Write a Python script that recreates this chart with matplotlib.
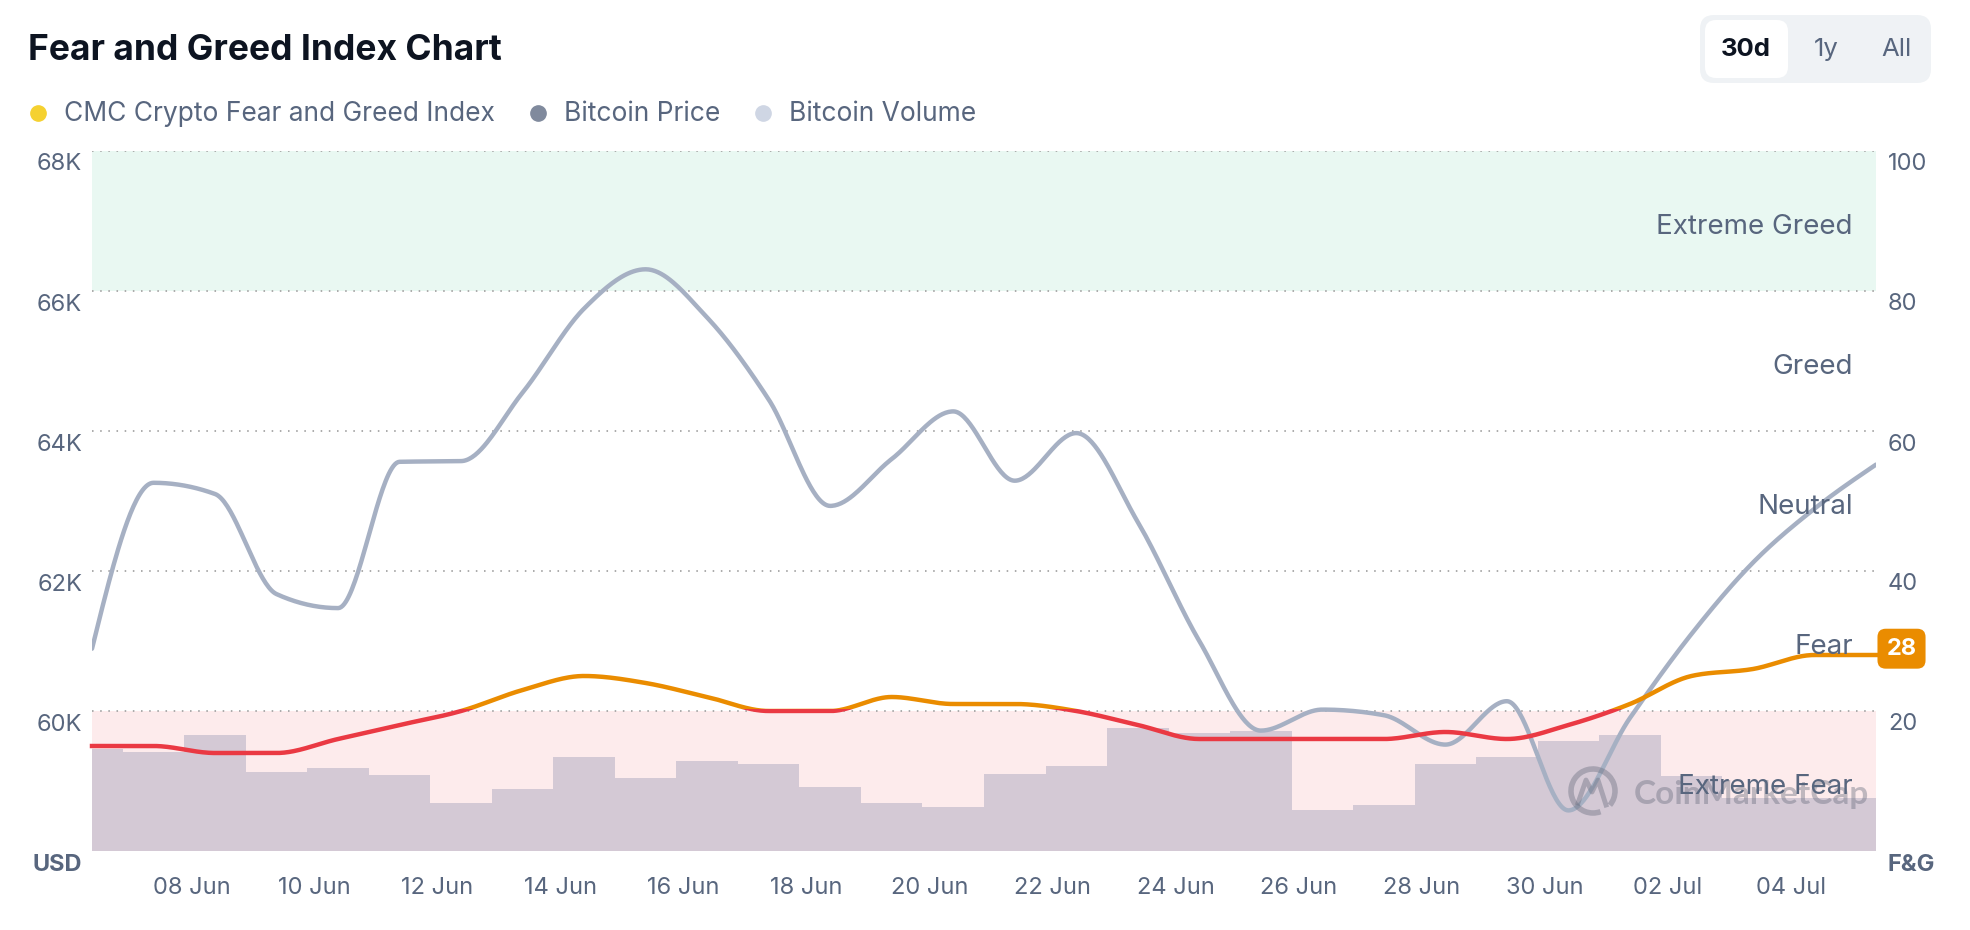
import matplotlib.pyplot as plt
import matplotlib.dates as mdates
from matplotlib.patches import Rectangle, FancyBboxPatch, Arc
from matplotlib.lines import Line2D
from matplotlib.transforms import IdentityTransform, ScaledTranslation, blended_transform_factory
import numpy as np
import pandas as pd

plt.rcParams['font.family'] = ['Inter', 'DejaVu Sans']

# daily data points
dates = pd.date_range('2024-06-06 09:15', periods=30, freq='D')
btc_price = [60890, 63260, 63100, 61670, 61470, 63560, 63570, 64550, 65750, 66310,
             65620, 64450, 62930, 63600, 64280, 63290, 63970, 62700, 61000, 59720,
             60020, 59940, 59520, 60140, 58580, 59900, 61100, 62120, 62890, 63520]
fear_greed = [15, 15, 14, 14, 16, 18, 20, 23, 25, 24, 22, 20, 20, 22, 21,
              21, 20, 18, 16, 16, 16, 16, 17, 16, 18, 21, 25, 26, 28, 28]
btc_volume = [36.5, 35.2, 41.5, 28.2, 29.8, 27.2, 17.2, 22.0, 33.5, 26.0,
              32.2, 31.2, 22.8, 17.2, 15.8, 27.5, 30.5, 44.0, 42.2, 43.0,
              14.8, 16.5, 31.2, 33.5, 39.2, 41.5, 26.8, 19.0, 19.0, 19.0]  # $B

tick_dates = pd.date_range('2024-06-08', '2024-07-04', freq='2D')
price_ticks = [58000, 60000, 62000, 64000, 66000, 68000]
price_labels = ['USD', '60K', '62K', '64K', '66K', '68K']
fg_ticks = [0, 20, 40, 60, 80, 100]
fg_labels = ['F&G', '20', '40', '60', '80', '100']
zone_names = ['Extreme Fear', 'Fear', 'Neutral', 'Greed', 'Extreme Greed']

SLATE = '#58667E'
DARK = '#0D1421'


def monotone(x, y, n=40):
    # same shape as d3 curveMonotoneX
    x = np.asarray(x, float)
    y = np.asarray(y, float)
    h = np.diff(x)
    s = np.diff(y) / h
    t = np.zeros_like(y)
    for i in range(1, len(x) - 1):
        p = (s[i - 1] * h[i] + s[i] * h[i - 1]) / (h[i - 1] + h[i])
        t[i] = (np.sign(s[i - 1]) + np.sign(s[i])) * min(abs(s[i - 1]), abs(s[i]), 0.5 * abs(p))
    t[0] = (3 * s[0] - t[1]) / 2
    t[-1] = (3 * s[-1] - t[-2]) / 2
    xs, ys = [], []
    for i in range(len(h)):
        u = np.linspace(0, 1, n, endpoint=(i == len(h) - 1))
        h00 = 2 * u**3 - 3 * u**2 + 1
        h10 = u**3 - 2 * u**2 + u
        h01 = -2 * u**3 + 3 * u**2
        h11 = u**3 - u**2
        ys.append(h00 * y[i] + h10 * h[i] * t[i] + h01 * y[i + 1] + h11 * h[i] * t[i + 1])
        xs.append(x[i] + u * h[i])
    return np.concatenate(xs), np.concatenate(ys)


xnum = mdates.date2num(dates.to_pydatetime())

fig = plt.figure(figsize=(19.7, 9.3), dpi=100)
ax = fig.add_axes([92 / 1970, 79 / 930, 1784 / 1970, 700 / 930])
ax_vol = ax.twinx()
ax_price = ax.twinx()
ax_fg = ax.twinx()
for i, a in enumerate([ax, ax_vol, ax_price, ax_fg]):
    a.set_zorder(i)
    for sp in a.spines.values():
        sp.set_visible(False)
    a.set_xlim(xnum[0], xnum[-1])

# zones + dotted grid on the F&G axis
ax.set_ylim(0, 100)
ax.axhspan(80, 100, color='#E9F8F2', lw=0, zorder=0)
ax.axhspan(0, 20, color='#FDEBEC', lw=0, zorder=0)
for v in fg_ticks:
    ax.axhline(v, color='#ABABAB', lw=1.4, dashes=(0.8, 3.4), zorder=1)
ax.yaxis.tick_right()
ax.set_yticks(fg_ticks)
ax.set_yticklabels(fg_labels)
ax.tick_params(axis='y', length=0, pad=8.5, labelsize=17, labelcolor=SLATE)
ax.get_yticklabels()[0].set_fontweight('bold')

ax.set_xticks(mdates.date2num(tick_dates.to_pydatetime()))
ax.xaxis.set_major_formatter(mdates.DateFormatter('%d %b'))
ax.tick_params(axis='x', length=0, pad=19, labelsize=17, labelcolor=SLATE)

# volume bars
ax_vol.bar(xnum, btc_volume, width=1.0, color='#D4C9D5', lw=0)
ax_vol.set_ylim(0, 250)
ax_vol.set_yticks([])

# bitcoin price
px, py = monotone(xnum, btc_price)
ax_price.plot(px, py, color='#A6B0C3', lw=3.2, solid_capstyle='round')
ax_price.set_ylim(58000, 68000)
ax_price.yaxis.tick_left()
ax_price.set_yticks(price_ticks)
ax_price.set_yticklabels(price_labels)
ax_price.tick_params(axis='y', length=0, pad=7, labelsize=17, labelcolor=SLATE)
ax_price.get_yticklabels()[0].set_fontweight('bold')

# shift y labels a bit below their grid line
shift = ScaledTranslation(0, -11 / 100, fig.dpi_scale_trans)
for a in (ax, ax_price):
    for tk in a.yaxis.get_major_ticks():
        tk.label1.set_transform(tk.label1.get_transform() + shift)
        tk.label2.set_transform(tk.label2.get_transform() + shift)

# fear & greed line, red below 20, orange above
fx, fy = monotone(xnum, fear_greed)
ax_fg.set_ylim(0, 100)
ax_fg.set_yticks([])
span = xnum[-1] - xnum[0]
up, = ax_fg.plot(fx, fy, color='#EA8C00', lw=3.2)
up.set_clip_path(Rectangle((xnum[0] - 1, 20.3), span + 2, 200, transform=ax_fg.transData))
dn, = ax_fg.plot(fx, fy, color='#EA3943', lw=3.2)
dn.set_clip_path(Rectangle((xnum[0] - 1, -100), span + 2, 120.3, transform=ax_fg.transData))

# watermark (under the zone labels)
px_tr = IdentityTransform()
ax_fg.add_artist(Arc((1593, 139), 44, 44, theta1=-40, theta2=290, lw=4, color='#6B6F80',
                     alpha=0.42, transform=px_tr, zorder=4))
ax_fg.add_artist(Line2D([1578, 1586, 1592, 1598, 1606], [127, 150, 138, 150, 125], lw=3.5,
                        color='#6B6F80', alpha=0.42, transform=px_tr, zorder=4))
ax_fg.text(1634, 136, 'CoinMarketCap', transform=px_tr, fontsize=24, fontweight='bold',
           color='#6B6F80', alpha=0.42, va='center', ha='left', family=['Lato', 'DejaVu Sans'],
           zorder=4)

bt = blended_transform_factory(ax_fg.transAxes, ax_fg.transData)
for k, name in enumerate(zone_names):
    mid = (fg_ticks[k] + fg_ticks[k + 1]) / 2
    ax_fg.text(0.987, mid - 0.8, name, transform=bt, ha='right', va='center',
               fontsize=20, color=SLATE, zorder=6)

ax_fg.text(1.0143, fear_greed[-1] + 0.9, str(fear_greed[-1]), transform=bt, ha='center', va='center',
           fontsize=17, fontweight='bold', color='white', clip_on=False, zorder=7,
           bbox=dict(boxstyle='round,pad=0.38,rounding_size=0.35', fc='#EA8C00', ec='none'))

# title and legend
fig.text(28, 930 - 50, 'Fear and Greed Index Chart', transform=px_tr, fontsize=25.5,
         fontweight='bold', color=DARK, va='center')
legend = [('CMC Crypto Fear and Greed Index', '#F5D130', 38),
          ('Bitcoin Price', '#808A9D', 538),
          ('Bitcoin Volume', '#CFD6E4', 763)]
for label, col, x0 in legend:
    fig.add_artist(Line2D([x0], [930 - 113], marker='o', ms=11, color=col, lw=0, transform=px_tr))
    fig.text(x0 + 26, 930 - 114, label, transform=px_tr, fontsize=19, color=SLATE, va='center')

# range buttons
fig.add_artist(FancyBboxPatch((1700, 847), 231, 68, boxstyle='round,pad=0,rounding_size=14',
                              fc='#EFF2F5', ec='none', transform=px_tr))
fig.add_artist(FancyBboxPatch((1705, 852), 83, 58, boxstyle='round,pad=0,rounding_size=11',
                              fc='white', ec='none', transform=px_tr))
fig.text(1746, 881, '30d', transform=px_tr, fontsize=18.5, fontweight='bold', color=DARK,
         ha='center', va='center')
fig.text(1826, 881, '1y', transform=px_tr, fontsize=18.5, color=SLATE, ha='center', va='center')
fig.text(1896, 881, 'All', transform=px_tr, fontsize=18.5, color=SLATE, ha='center', va='center')

fig.savefig('out.png', dpi=100)
